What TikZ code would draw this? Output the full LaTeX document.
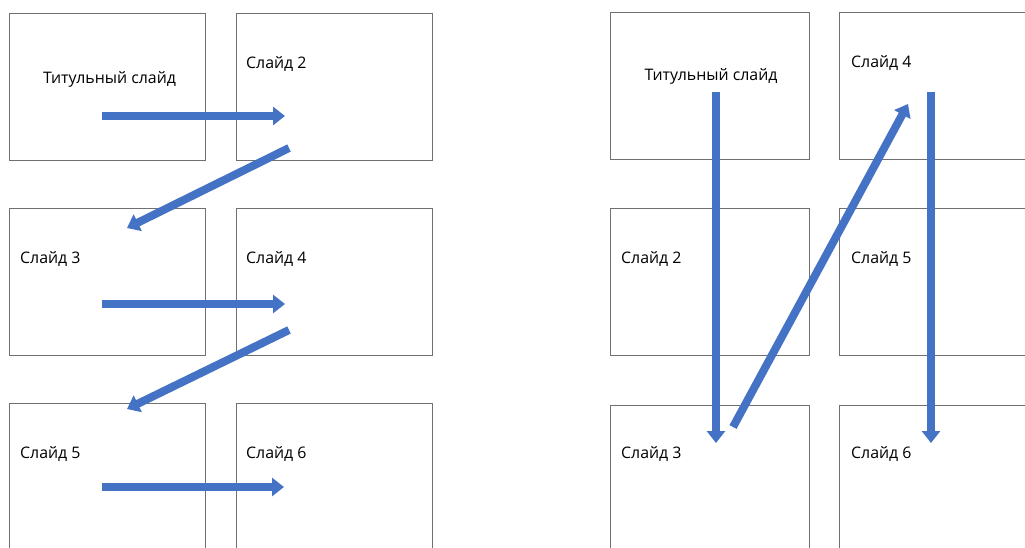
\documentclass[tikz,border=0pt]{standalone}
\usepackage{fontspec}
\setmainfont{Open Sans}
\usetikzlibrary{arrows.meta}
\definecolor{arrowblue}{HTML}{4472C4}
\definecolor{boxgray}{HTML}{707070}
\tikzset{
  slidebox/.style={draw=boxgray, line width=1.1pt, rectangle, anchor=north west, inner sep=0pt, minimum width=196pt, minimum height=147pt},
  slidelbl/.style={font=\fontsize{15.9}{18}\selectfont, inner sep=0pt, text=black},
  blockarrow/.style={draw=arrowblue, line width=8pt, -{Triangle[width=18pt,length=12pt]}}
}
\begin{document}
\begin{tikzpicture}[x=1pt,y=-1pt]
\useasboundingbox (0,0) rectangle (1025,547);
\clip (0,0) rectangle (1025,547);
\fill[white] (0,0) rectangle (1025,547);
% left grid
\node[slidebox] (A1) at (9,13) {};
\node[slidebox] (A2) at (236,13) {};
\node[slidebox] (A3) at (9,208) {};
\node[slidebox] (A4) at (236,208) {};
\node[slidebox] (A5) at (9,403) {};
\node[slidebox] (A6) at (236,403) {};
% right grid
\node[slidebox, minimum width=199pt] (B1) at (610,12) {};
\node[slidebox] (B2) at (839,12) {};
\node[slidebox, minimum width=199pt] (B3) at (610,208) {};
\node[slidebox] (B4) at (839,208) {};
\node[slidebox, minimum width=199pt] (B5) at (610,405) {};
\node[slidebox] (B6) at (839,405) {};
% left labels
\node[slidelbl, anchor=base] (A1t) at (109.5,83) {Титульный слайд};
\node[slidelbl, anchor=base west] (A2t) at (246,68) {Слайд 2};
\node[slidelbl, anchor=base west] (A3t) at (20,263) {Слайд 3};
\node[slidelbl, anchor=base west] (A4t) at (246,263) {Слайд 4};
\node[slidelbl, anchor=base west] (A5t) at (20,458) {Слайд 5};
\node[slidelbl, anchor=base west] (A6t) at (246,458) {Слайд 6};
% right labels
\node[slidelbl, anchor=base] (B1t) at (711,80) {Титульный слайд};
\node[slidelbl, anchor=base west] (B2t) at (851,67) {Слайд 4};
\node[slidelbl, anchor=base west] (B3t) at (621,263) {Слайд 2};
\node[slidelbl, anchor=base west] (B4t) at (851,263) {Слайд 5};
\node[slidelbl, anchor=base west] (B5t) at (621,458) {Слайд 3};
\node[slidelbl, anchor=base west] (B6t) at (851,458) {Слайд 6};
% arrow end points
\coordinate (p1s) at (102,116); \coordinate (p1e) at (285,116);
\coordinate (p2s) at (289,148); \coordinate (p2e) at (127,228);
\coordinate (p3s) at (102,304); \coordinate (p3e) at (285,304);
\coordinate (p4s) at (289,330); \coordinate (p4e) at (127,409);
\coordinate (p5s) at (102,487); \coordinate (p5e) at (284,487);
\coordinate (q1s) at (716,92);  \coordinate (q1e) at (716,443);
\coordinate (q2s) at (733,427); \coordinate (q2e) at (908,104);
\coordinate (q3s) at (931,92);  \coordinate (q3e) at (931,443);
% arrows
\draw[blockarrow] (p1s) -- (p1e);
\draw[blockarrow] (p2s) -- (p2e);
\draw[blockarrow] (p3s) -- (p3e);
\draw[blockarrow] (p4s) -- (p4e);
\draw[blockarrow] (p5s) -- (p5e);
\draw[blockarrow] (q1s) -- (q1e);
\draw[blockarrow] (q2s) -- (q2e);
\draw[blockarrow] (q3s) -- (q3e);
\end{tikzpicture}
\end{document}
